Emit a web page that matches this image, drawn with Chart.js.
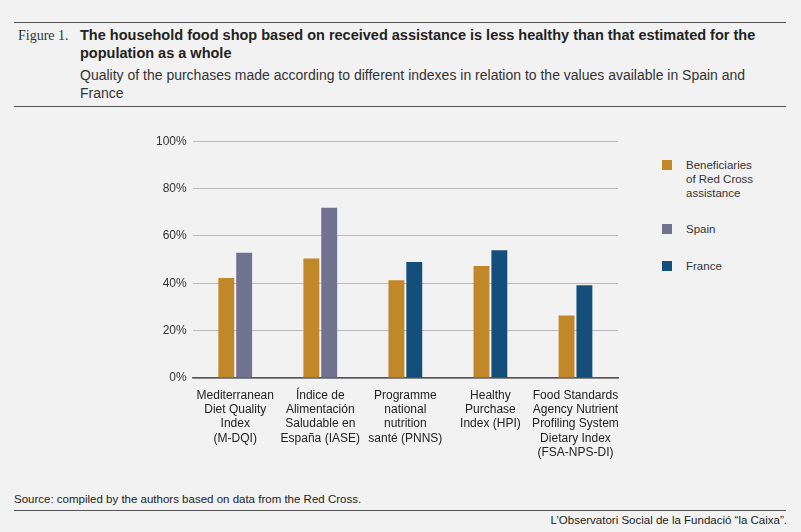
<!DOCTYPE html>
<html><head><meta charset="utf-8">
<script src="https://cdn.jsdelivr.net/npm/chart.js@4/dist/chart.umd.min.js"></script>
<style>
body{margin:0;width:801px;height:532px;background:#f2f2f2;font-family:"Liberation Sans",Arial,sans-serif;color:#222;position:relative;overflow:hidden}
#head{position:absolute;left:14px;top:26px;width:772px}
#fig{position:absolute;left:4px;top:2px;font-family:"Liberation Serif",serif;font-size:14px;color:#333}
#title{margin-left:66px;font-weight:bold;font-size:14.5px;line-height:18px;color:#222}
#sub{margin-left:66px;margin-top:4px;width:690px;font-size:14px;line-height:18px;color:#333}
.rule{position:absolute;left:14px;width:772px;border-top:1.5px solid #555}
#wrap{position:absolute;left:150px;top:128px;width:480px;height:334px}
#legend{position:absolute;left:662px;top:158px;font-size:11.5px;line-height:14px;color:#333}
.li{position:relative;padding-left:24px}
.sw{position:absolute;left:0;top:2px;width:10px;height:10px}
#src{position:absolute;left:14px;top:493px;font-size:11.5px}
#foot{position:absolute;right:14px;top:514px;font-size:11.5px}
</style></head><body>
<div class="rule" style="top:22px;border-top-width:1px"></div>
<div id="head"><div id="fig">Figure 1.</div>
<div id="title">The household food shop based on received assistance is less healthy than that estimated for the population as a whole</div>
<div id="sub">Quality of the purchases made according to different indexes in relation to the values available in Spain and France</div></div>
<div class="rule" style="top:106px"></div>
<div id="wrap"><canvas id="c"></canvas></div>
<div id="legend">
<div class="li"><span class="sw" style="background:#c08829"></span>Beneficiaries<br>of Red Cross<br>assistance</div>
<div class="li" style="margin-top:22px"><span class="sw" style="background:#717290"></span>Spain</div>
<div class="li" style="margin-top:23px"><span class="sw" style="background:#134f7a"></span>France</div>
</div>
<div id="src">Source: compiled by the authors based on data from the Red Cross.</div>
<div class="rule" style="top:510px;border-top-width:1px"></div>
<div id="foot">L’Observatori Social de la Fundació “la Caixa”.</div>
<script>
const categories = [
  ['Mediterranean', 'Diet Quality', 'Index', '(M-DQI)'],
  ['Índice de', 'Alimentación', 'Saludable en', 'España (IASE)'],
  ['Programme', 'national', 'nutrition', 'santé (PNNS)'],
  ['Healthy', 'Purchase', 'Index (HPI)'],
  ['Food Standards', 'Agency Nutrient', 'Profiling System', 'Dietary Index', '(FSA-NPS-DI)']
];
const beneficiaries = [42.2, 50.5, 41.3, 47.3, 26.4];
const spain = [52.9, 71.9, null, null, null];
const france = [null, null, 49.0, 54.0, 39.2];

const ds = (label, data, color) => ({
  label, data, backgroundColor: color, skipNull: true,
  categoryPercentage: 0.42, barPercentage: 0.89
});

new Chart(document.getElementById('c'), {
  type: 'bar',
  data: {
    labels: categories,
    datasets: [
      ds('Beneficiaries of Red Cross assistance', beneficiaries, '#c08829'),
      ds('Spain', spain, '#717290'),
      ds('France', france, '#134f7a')
    ]
  },
  options: {
    responsive: true, maintainAspectRatio: false, animation: false,
    layout: { padding: { right: 12 } },
    plugins: { legend: { display: false }, tooltip: { enabled: false } },
    scales: {
      x: {
        grid: { display: false },
        border: { color: '#555', width: 1.5 },
        ticks: { color: '#222', font: { family: 'Liberation Sans', size: 12 }, maxRotation: 0, autoSkip: false, padding: 2 }
      },
      y: {
        min: 0, max: 100,
        ticks: { stepSize: 20, callback: v => v + '%', color: '#333', font: { family: 'Liberation Sans', size: 12 }, padding: 6 },
        grid: { color: '#bbb', drawTicks: false },
        border: { display: false }
      }
    }
  }
});
</script>
</body></html>
